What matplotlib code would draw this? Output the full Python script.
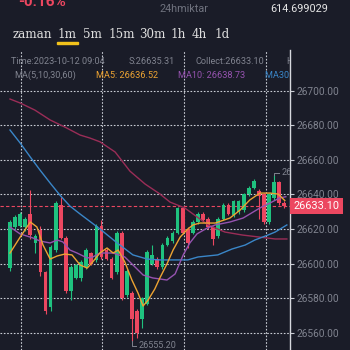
import numpy as np
import matplotlib
matplotlib.use("Agg")
import matplotlib.pyplot as plt

# candle data, 1m, oldest first
opens = [26597.5, 26621, 26622, 26621, 26629, 26612, 26619.5, 26595, 26575, 26608,
         26634, 26615, 26584, 26592, 26592, 26598, 26606, 26602, 26622, 26608,
         26603, 26595, 26618, 26582, 26583, 26573, 26568, 26577, 26600, 26603,
         26598, 26611, 26613, 26618, 26632, 26620, 26618, 26624, 26629, 26626,
         26621, 26616, 26626, 26634, 26628, 26630, 26631, 26640, 26644, 26642,
         26640, 26624, 26638, 26647, 26635]
closes = [26624.3, 26627, 26629, 26626, 26616.5, 26616, 26595, 26573, 26609.5, 26635,
          26615, 26584, 26598, 26599, 26601, 26608, 26600, 26622, 26604, 26603,
          26592, 26618, 26580, 26596, 26568, 26560, 26580, 26607, 26605, 26598,
          26611, 26615, 26618, 26632, 26618, 26612, 26624, 26629, 26625, 26621,
          26614, 26626, 26634, 26629, 26636, 26636, 26640, 26644, 26648, 26639,
          26624, 26640, 26647, 26635, 26633.1]
highs = [26625.5, 26628, 26630, 26627, 26642.5, 26617, 26622, 26596, 26611, 26636,
         26638.5, 26616, 26599, 26600, 26602, 26609, 26607, 26623, 26625, 26609,
         26604, 26619, 26619, 26597, 26584, 26574, 26581, 26608, 26611, 26604,
         26612, 26616, 26619, 26633, 26633, 26621, 26625, 26630, 26630, 26627,
         26622, 26627, 26635, 26635, 26637, 26637, 26641, 26645, 26649, 26643,
         26641, 26641, 26651, 26648, 26636]
lows = [26596, 26620, 26621, 26619, 26614, 26606, 26593, 26571, 26573, 26607,
        26614, 26583, 26579, 26591, 26590, 26597, 26599, 26601, 26603, 26602,
        26591, 26594, 26579, 26581, 26555.2, 26557, 26563, 26576, 26599, 26597,
        26597, 26610, 26612, 26617, 26617, 26609, 26617, 26623, 26624, 26620,
        26611, 26615, 26625, 26628, 26627, 26629, 26630, 26639, 26643, 26626,
        26623, 26623, 26637, 26634, 26632]

# moving averages (candle index, value)
ma5_idx = [0, 2, 4, 5.3, 6.5, 7.9, 9.3, 10.8, 12.2, 13.8, 15.2, 16.1, 17.7, 19.1, 20.3,
           21.3, 22.6, 24, 25.2, 26.2, 27.2, 28.5, 29.5, 30.9, 32.1, 33.5, 34.8, 36,
           37.4, 40.4, 43.3, 45.3, 47.2, 49.2, 51.2, 52.8, 54.1]
ma5_val = [26606.2, 26615.4, 26624.1, 26621.2, 26610.8, 26602.7, 26604.5, 26605.6, 26605.1,
           26599.3, 26597.5, 26600.4, 26606.2, 26609.1, 26606.2, 26607.9, 26601.0, 26590.6,
           26583.1, 26575.6, 26579.1, 26585.4, 26591.8, 26599.9, 26607.9, 26615.4, 26619.5,
           26622.4, 26623.5, 26623.5, 26626.4, 26631.0, 26636.8, 26640.8, 26640.8, 26640.2,
           26636.5]
ma10_idx = [0, 2, 4.5, 5.9, 7.9, 9.3, 10.4, 11.8, 13.2, 15.2, 16.3, 17.7, 20.3, 22.6, 24.2,
            26.2, 28.1, 30.9, 32.5, 34.1, 35.4, 36.8, 38.8, 40.4, 43.3, 45.9, 49.2, 51.2,
            53.1, 54.3]
ma10_val = [26621.2, 26617.2, 26614.9, 26613.1, 26612.0, 26613.7, 26612.6, 26607.9, 26606.2,
            26603.3, 26603.9, 26606.2, 26606.2, 26603.9, 26599.3, 26593.5, 26591.8, 26590.6,
            26594.1, 26605.1, 26612.0, 26617.2, 26620.6, 26622.4, 26624.1, 26626.4, 26632.2,
            26635.1, 26638.0, 26638.7]
ma30_idx = [0, 2, 4, 5.9, 7.9, 9.8, 11.8, 13.8, 17.7, 21.1, 24.2, 27.0, 29.5, 35.0, 37.0,
            40.9, 43.7, 46.3, 48.2, 50.8, 52.2, 54.5]
ma30_val = [26677.2, 26669.7, 26661.6, 26654.1, 26646.6, 26639.7, 26633.3, 26628.7, 26620.1,
            26612.0, 26605.1, 26602.7, 26602.2, 26602.2, 26603.9, 26605.1, 26608.5, 26610.8,
            26613.7, 26616.6, 26618.3, 26622.4]
ma60_idx = [0, 2, 4.9, 7.9, 10.8, 13.8, 15.7, 17.7, 20.7, 23.6, 26.6, 29.5, 31.5, 34.4, 39.0,
            42.3, 45.7, 48.8, 52.2, 54.5]
ma60_val = [26695.1, 26692.8, 26688.7, 26683.0, 26678.9, 26674.3, 26672.6, 26670.4, 26664.5,
            26653.5, 26646.0, 26640.3, 26635.6, 26632.2, 26622.4, 26618.3, 26616.6, 26615.5,
            26614.3, 26614.3]

price_ticks = [26560, 26580, 26600, 26620, 26640, 26660, 26680, 26700]
last_price = 26633.10
high_idx, high_val = 52, 26651.00
low_idx, low_val = 24, 26555.20

tabs = ["zaman", "1m", "5m", "15m", "30m", "1h", "4h", "1d"]
tab_x = [13, 58, 83, 108, 139, 171, 192, 214]

bg = "#1a1c28"
up = "#1fc27f"
down = "#ec4760"
grey = "#80838f"

fig = plt.figure(figsize=(3.5, 3.5), dpi=100, facecolor=bg)
ax = fig.add_axes([0, 0, 290 / 350, 300 / 350], facecolor=bg)

idx = np.arange(len(opens))
o = np.array(opens)
c = np.array(closes)
colors = [up if cc >= oo else down for oo, cc in zip(o, c)]
body = np.where(np.abs(c - o) < 0.8, 0.8, np.abs(c - o))
ax.vlines(idx, lows, highs, colors=colors, lw=0.8, zorder=3)
ax.bar(idx, body, bottom=np.minimum(o, c), width=0.72, color=colors, zorder=4)

ax.plot(ma60_idx, ma60_val, color="#9a2d57", lw=1.0, zorder=5)
ax.plot(ma30_idx, ma30_val, color="#3a86c8", lw=1.0, zorder=5)
ax.plot(ma10_idx, ma10_val, color="#9653b0", lw=1.0, zorder=5)
ax.plot(ma5_idx, ma5_val, color="#eda332", lw=1.0, zorder=6)

ax.set_xlim(-1.97, 55.12)
ax.set_ylim(26550.2, 26723.4)

# grid
for p in price_ticks:
    ax.axhline(p, color="#c9ccd4", lw=0.8, ls=(0, (1.5, 1.5)), zorder=1)
for fx in [21 / 290, 102 / 290, 184 / 290, 266 / 290]:
    ax.plot([fx, fx], [0, 1], transform=ax.transAxes, color="#c9ccd4", lw=0.8,
            ls=(0, (1.5, 1.5)), zorder=1)

ax.axhline(last_price, color=down, lw=0.8, ls=(0, (3, 2)), zorder=2)

ax.yaxis.tick_right()
ax.set_yticks(price_ticks)
ax.set_yticklabels([f"{p:.2f}" for p in price_ticks], fontsize=7.3, color=grey,
                   family="Roboto")
ax.tick_params(axis="y", length=3, width=0.8, color="#c9ccd4", pad=1.5)
ax.set_xticks([])
for s in ["top", "left", "bottom"]:
    ax.spines[s].set_visible(False)
ax.spines["right"].set_color("#d6d8de")
ax.spines["right"].set_linewidth(1.0)

# last price box
ax.text(1.012, last_price, f"{last_price:.2f}", transform=ax.get_yaxis_transform(),
        ha="left", va="center", fontsize=7.8, color="white", family="Roboto",
        bbox=dict(boxstyle="square,pad=0.28", fc=down, ec="none"), clip_on=False, zorder=8)

# high / low markers
ax.plot([high_idx, high_idx, high_idx + 0.9], [high_val, high_val + 1.5, high_val + 1.5],
        color=grey, lw=0.7, zorder=7)
ax.text(high_idx + 1.4, high_val + 1.5, f"{high_val:.2f}", fontsize=6.5, color=grey,
        va="center", ha="left", family="Roboto", clip_on=True)
ax.plot([low_idx, low_idx, low_idx + 0.9], [low_val, low_val - 2.5, low_val - 2.5],
        color=grey, lw=0.7, zorder=7)
ax.text(low_idx + 1.4, low_val - 2.5, f"{low_val:.2f}", fontsize=6.5, color=grey,
        va="center", ha="left", family="Roboto", clip_on=True)

# info rows inside the chart area
def info(xpx, ypx, s, col):
    ax.text(xpx / 290, 1 - (ypx - 50) / 300, s, transform=ax.transAxes, fontsize=6.6,
            color=col, family="Roboto", va="center", ha="left", clip_on=True)

info(11, 61, "Time:2023-10-12 09:04", grey)
info(129, 61, "S:26635.31", grey)
info(195, 61, "Collect:26633.10", grey)
info(286, 61, "H", grey)
info(14, 75, "MA(5,10,30,60)", grey)
info(96, 75, "MA5: 26636.52", "#eda332")
info(178, 75, "MA10: 26638.73", "#9653b0")
info(265, 75, "MA30: 26622.40", "#3a86c8")

# header
fig.text(18 / 350, 1 - 2 / 350, "-0.16%", fontsize=11, color=down, fontweight="bold",
         family="Roboto", va="center", ha="left")
fig.text(160 / 350, 1 - 9 / 350, "24hmiktar", fontsize=7.8, color="#6f727e",
         family="Roboto", va="center", ha="left")
fig.text(270 / 350, 1 - 9 / 350, "614.699029", fontsize=7.8, color="#e6e6e6",
         family="Roboto", va="center", ha="left")
for t, xp in zip(tabs, tab_x):
    fig.text(xp / 350, 1 - 34 / 350, t, fontsize=8.6, color="#dedede",
             family="DejaVu Serif", va="center", ha="left")
fig.patches.append(plt.Rectangle((57 / 350, 1 - 44 / 350), 21 / 350, 2 / 350,
                                 transform=fig.transFigure, color="#f2c21b"))

fig.savefig("out.png", dpi=100, facecolor=bg)
